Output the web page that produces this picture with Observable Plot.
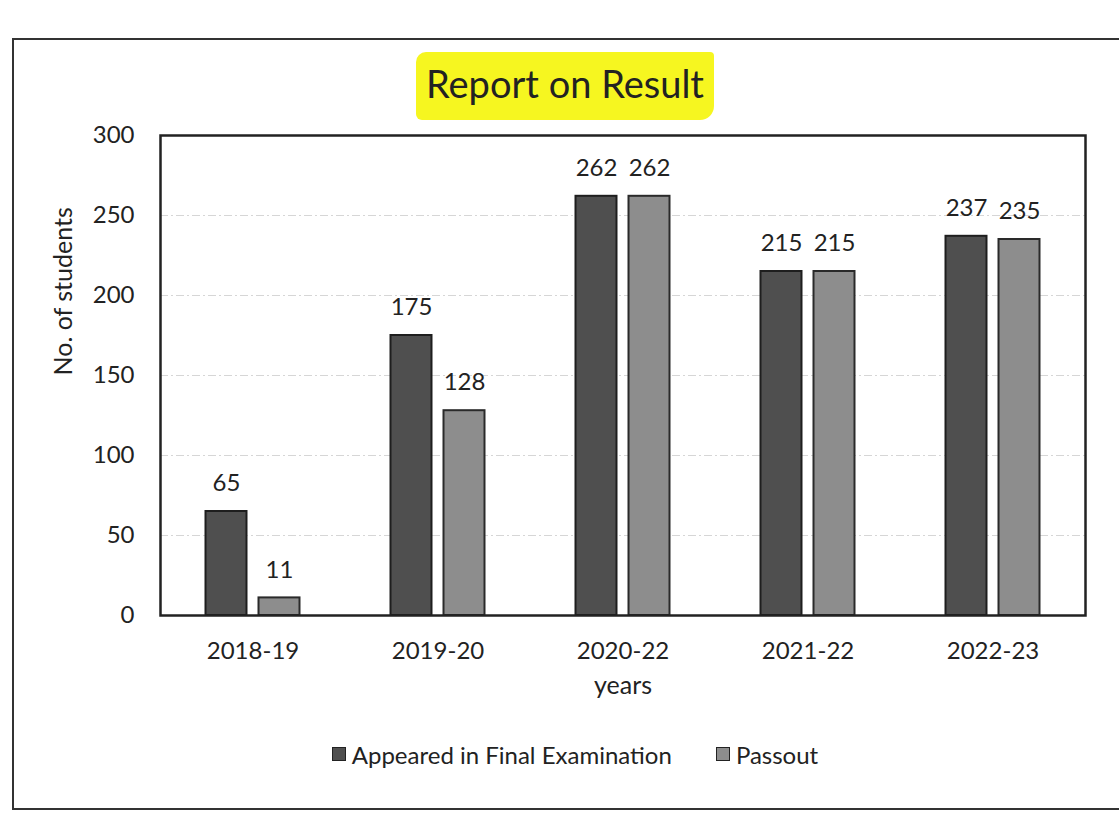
<!DOCTYPE html>
<html>
<head>
<meta charset="utf-8">
<script src="https://cdn.jsdelivr.net/npm/d3@7"></script>
<script src="https://cdn.jsdelivr.net/npm/@observablehq/plot@0.6"></script>
<style>
  html, body { margin: 0; padding: 0; background: #fff; }
  body { width: 1119px; height: 817px; position: relative; overflow: hidden; font-family: Lato, "Open Sans", sans-serif; color: #222; }
  #frame { position: absolute; left: 12px; top: 38px; width: 1120px; height: 772px; border: 2px solid #333; box-sizing: border-box; }
  #title { position: absolute; left: 0; width: 1130px; top: 58px; text-align: center; font-size: 38px; line-height: 50px; }
  #title span { background: #f6f620; padding: 8px 10px 14px 10px; border-radius: 10px 4px 14px 6px; }
  #chart { position: absolute; left: 0; top: 110px; }
  #legend { position: absolute; top: 737px; left: 0; width: 1150px; text-align: center; font-size: 24px; }
  #legend .item { display: inline-flex; align-items: center; margin: 0 22px; }
  #legend .sw { display: inline-block; width: 12px; height: 12px; margin-right: 6px; border: 1px solid #222; }
</style>
</head>
<body>
<div id="frame"></div>
<div id="title"><span>Report on Result</span></div>
<div id="chart"></div>
<div id="legend"></div>
<script>
const years = ["2018-19", "2019-20", "2020-22", "2021-22", "2022-23"];
const appeared = [65, 175, 262, 215, 237];
const passout = [11, 128, 262, 215, 235];
const seriesNames = ["Appeared in Final Examination", "Passout"];
const seriesColors = ["#4f4f4f", "#8d8d8d"];
const yTicks = [0, 50, 100, 150, 200, 250, 300];

const rowsA = years.map((y, i) => ({year: y, value: appeared[i]}));
const rowsP = years.map((y, i) => ({year: y, value: passout[i]}));

const width = 1119, marginLeft = 160, marginRight = 34;
const band = (width - marginLeft - marginRight) / years.length;
const barW = 41, gap = 12;
const inA = {insetLeft: band / 2 - gap / 2 - barW, insetRight: band / 2 + gap / 2};
const inP = {insetLeft: band / 2 + gap / 2, insetRight: band / 2 - gap / 2 - barW};
const off = gap / 2 + barW / 2;

const chart = Plot.plot({
  width, height: 600,
  marginLeft, marginRight, marginTop: 25, marginBottom: 95,
  style: {fontFamily: "Lato, 'Open Sans', sans-serif", fontSize: "24px", color: "#222", background: "transparent"},
  x: {domain: years, padding: 0, label: null},
  y: {domain: [0, 300], ticks: yTicks, label: null},
  marks: [
    Plot.gridY(yTicks, {stroke: "#bbb", strokeOpacity: 0.6, strokeDasharray: "8,3,2,3"}),
    Plot.barY(rowsA, {x: "year", y: "value", fill: seriesColors[0], stroke: "#1e1e1e", strokeWidth: 2, ...inA}),
    Plot.barY(rowsP, {x: "year", y: "value", fill: seriesColors[1], stroke: "#2a2a2a", strokeWidth: 2, ...inP}),
    Plot.text(rowsA, {x: "year", y: "value", text: d => String(d.value), dx: -off, dy: -28, fontSize: 24, fill: "#222"}),
    Plot.text(rowsP, {x: "year", y: "value", text: d => String(d.value), dx: off, dy: -28, fontSize: 24, fill: "#222"}),
    Plot.axisX({tickSize: 0, tickPadding: 26, fontSize: 24, label: null}),
    Plot.axisY(yTicks, {tickSize: 0, tickPadding: 26, fontSize: 24, label: null}),
    Plot.text(["years"], {frameAnchor: "bottom", dy: 78, fontSize: 25, fill: "#222"}),
    Plot.text(["No. of students"], {frameAnchor: "left", dx: -97, rotate: -90, fontSize: 25, fill: "#222"}),
    Plot.frame({stroke: "#222", strokeWidth: 2.5})
  ]
});
document.getElementById("chart").appendChild(chart);

const leg = document.getElementById("legend");
seriesNames.forEach((n, i) => {
  const it = document.createElement("span");
  it.className = "item";
  const sw = document.createElement("span");
  sw.className = "sw";
  sw.style.background = seriesColors[i];
  it.appendChild(sw);
  it.appendChild(document.createTextNode(n));
  leg.appendChild(it);
});
</script>
</body>
</html>
